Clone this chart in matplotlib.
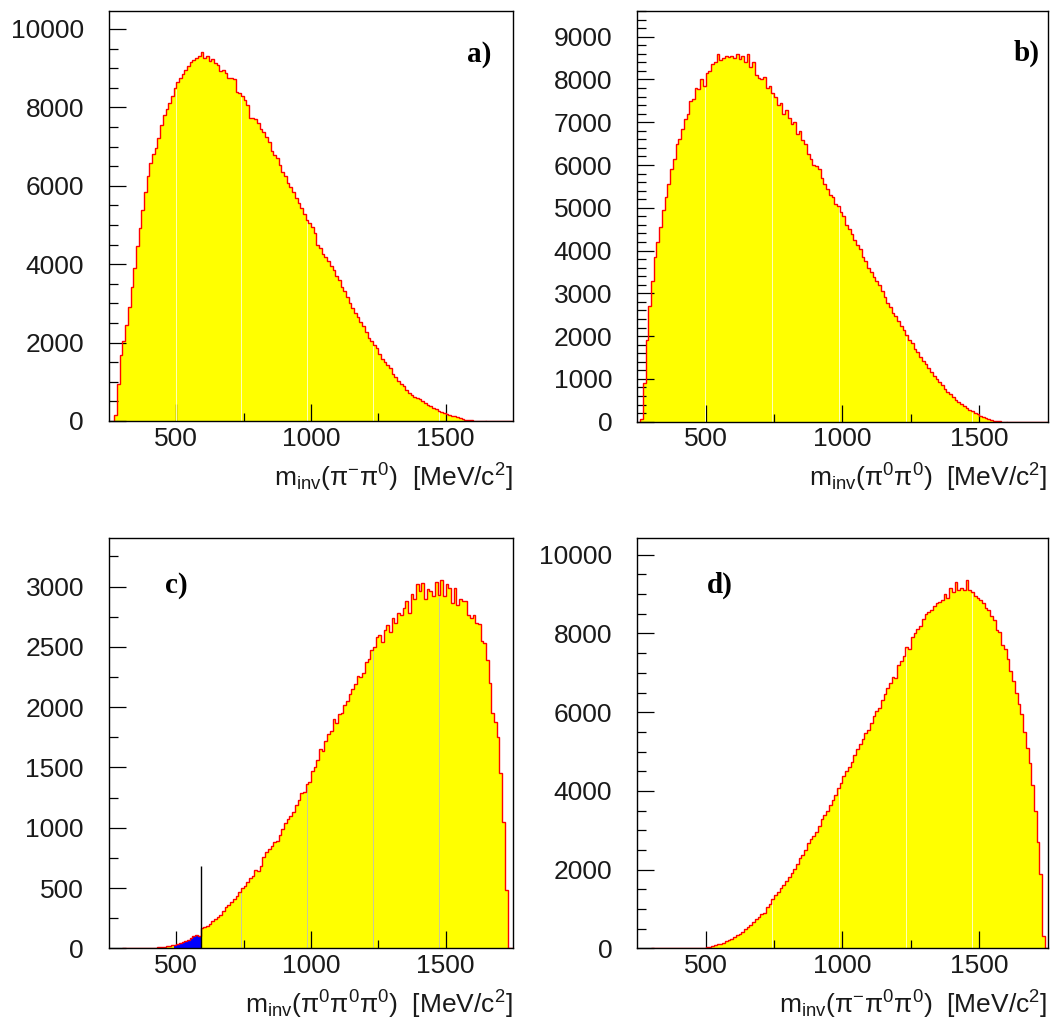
import numpy as np
import matplotlib
matplotlib.use('Agg')
import matplotlib.pyplot as plt
from matplotlib.ticker import FixedLocator, MultipleLocator

plt.rcParams['font.family'] = ['Liberation Sans', 'DejaVu Sans']
plt.rcParams['mathtext.fontset'] = 'custom'
plt.rcParams['mathtext.rm'] = 'Liberation Sans'
plt.rcParams['mathtext.it'] = 'Liberation Sans:italic'
plt.rcParams['mathtext.bf'] = 'Liberation Sans:bold'

BIN = 10  # MeV/c^2 per bin

# a) m(pi- pi0), bins start at 270
A_START = 270
A_COUNTS = [
    150, 950, 1680, 2040, 2440, 2900, 3410, 3890, 4470, 4930,
    5380, 5840, 6250, 6580, 6820, 6970, 7220, 7540, 7800, 7950,
    8120, 8300, 8490, 8640, 8740, 8840, 8950, 9050, 9150, 9200,
    9260, 9310, 9400, 9250, 9300, 9180, 9230, 9130, 9080, 8920,
    8960, 8880, 8760, 8740, 8730, 8400, 8370, 8300, 8180, 8050,
    7720, 7740, 7700, 7600, 7450, 7380, 7250, 7120, 6880, 6780,
    6720, 6520, 6350, 6240, 6080, 5960, 5830, 5690, 5550, 5420,
    5280, 5120, 5060, 4940, 4790, 4500, 4400, 4260, 4170, 4080,
    3960, 3850, 3690, 3600, 3430, 3320, 3150, 3010, 2880, 2760,
    2650, 2530, 2430, 2270, 2120, 2040, 1940, 1850, 1710, 1590,
    1510, 1420, 1340, 1210, 1120, 1030, 950, 890, 790, 720,
    660, 620, 580, 550, 500, 450, 410, 370, 340, 300,
    265, 235, 205, 185, 160, 135, 115, 90, 70, 50,
    35, 22, 15, 10, 8, 5, 3, 2,
]

# b) m(pi0 pi0), bins start at 260
B_START = 260
B_COUNTS = [
    60, 900, 1900, 2700, 3300, 3850, 4200, 4550, 4950, 5250,
    5550, 5900, 6150, 6500, 6600, 6850, 7080, 7200, 7500, 7550,
    7800, 7780, 8000, 7850, 8150, 8200, 8350, 8400, 8600, 8450,
    8500, 8550, 8520, 8560, 8500, 8600, 8480, 8550, 8420, 8600,
    8300, 8400, 8100, 8030, 8000, 8060, 7800, 7850, 7680, 7600,
    7400, 7450, 7200, 7280, 7100, 6950, 7000, 6720, 6800, 6580,
    6480, 6250, 6150, 6000, 5980, 5900, 5700, 5550, 5450, 5300,
    5250, 5100, 5050, 4900, 4800, 4600, 4500, 4380, 4250, 4120,
    4030, 3850, 3750, 3600, 3500, 3380, 3280, 3200, 3050, 2920,
    2780, 2680, 2540, 2480, 2350, 2240, 2150, 2020, 1920, 1830,
    1700, 1620, 1520, 1420, 1340, 1250, 1150, 1070, 990, 920,
    850, 760, 700, 640, 570, 510, 460, 420, 370, 320,
    280, 240, 200, 170, 140, 110, 90, 65, 40, 25,
    15, 8, 4, 2,
]

# c) m(pi0 pi0 pi0), bins start at 300
C_START = 300
C_COUNTS = [
    1, 1, 1, 1, 2, 2, 2, 3, 3, 4,
    4, 5, 6, 7, 9, 12, 16, 20, 25, 30,
    38, 45, 55, 62, 72, 85, 100, 110, 105, 170,
    175, 185, 200, 225, 240, 260, 280, 310, 340, 360,
    380, 410, 430, 470, 500, 520, 550, 580, 600, 650,
    640, 680, 760, 800, 820, 850, 880, 890, 940, 990,
    1040, 1070, 1100, 1130, 1190, 1230, 1290, 1300, 1360, 1380,
    1470, 1500, 1560, 1650, 1640, 1720, 1780, 1800, 1900, 1870,
    1940, 1950, 2020, 2050, 2110, 2150, 2190, 2260, 2250, 2280,
    2370, 2400, 2470, 2500, 2580, 2600, 2540, 2640, 2680, 2620,
    2740, 2700, 2780, 2760, 2820, 2880, 2780, 2940, 2900, 3020,
    2960, 3030, 2900, 2980, 2960, 2920, 3040, 2930, 3050, 2920,
    3020, 2990, 2860, 2990, 2850, 2900, 2880, 2880, 2760, 2740,
    2760, 2700, 2690, 2550, 2530, 2390, 2200, 1950, 1880, 1750,
    1450, 1050, 480,
]
# bins of c) that pass the selection are shaded blue
C_CUT_LO = 490
C_CUT_HI = 590
C_CUT_MARK = 680

# d) m(pi- pi0 pi0), bins start at 300
D_START = 300
D_COUNTS = [
    0, 0, 1, 1, 1, 1, 2, 2, 2, 3,
    3, 4, 5, 6, 7, 9, 11, 13, 16, 20,
    25, 40, 55, 75, 100, 120, 140, 180, 210, 240,
    290, 330, 360, 420, 480, 540, 600, 660, 740, 800,
    880, 890, 1050, 1120, 1250, 1360, 1430, 1520, 1620, 1700,
    1800, 1920, 2020, 2150, 2300, 2380, 2510, 2680, 2780, 2850,
    2960, 3100, 3280, 3390, 3480, 3650, 3780, 3900, 4080, 4200,
    4380, 4500, 4620, 4730, 4900, 5070, 5200, 5320, 5480, 5560,
    5720, 5900, 6020, 6100, 6300, 6450, 6620, 6750, 6900, 6880,
    7200, 7300, 7420, 7650, 7600, 7900, 8000, 8120, 8200, 8380,
    8500, 8550, 8600, 8700, 8780, 8800, 8850, 9000, 8900, 9150,
    9050, 9300, 9100, 9150, 9100, 9350, 9100, 9050, 8950, 8900,
    8850, 8780, 8650, 8600, 8450, 8350, 8100, 8050, 7700, 7600,
    7350, 7050, 6800, 6500, 6200, 5950, 5500, 5100, 4700, 4150,
    3500, 2700, 1900, 300,
]

# thin seams in the filled area
SEAMS = [498, 742, 987, 1231, 1475]

XLABELS = [
    r'm$_{\mathregular{inv}}$(π$^{-}$π$^{0}$)  [MeV/c$^{2}$]',
    r'm$_{\mathregular{inv}}$(π$^{0}$π$^{0}$)  [MeV/c$^{2}$]',
    r'm$_{\mathregular{inv}}$(π$^{0}$π$^{0}$π$^{0}$)  [MeV/c$^{2}$]',
    r'm$_{\mathregular{inv}}$(π$^{-}$π$^{0}$π$^{0}$)  [MeV/c$^{2}$]',
]
TAGS = ['a)', 'b)', 'c)', 'd)']


def hist_panel(ax, start, counts, ymax, ymajor, yminor, seam_colour):
    counts = np.asarray(counts, dtype=float)
    edges = start + BIN * np.arange(len(counts) + 1)
    ax.stairs(counts, edges, fill=True, color='#ffff00', lw=0, zorder=1)
    for s in SEAMS:
        i = int((s - start) // BIN)
        if 0 <= i < len(counts):
            ax.vlines(s, 0, counts[i] - 15, color=seam_colour, lw=0.7, zorder=2)
    ax.stairs(counts, edges, color='#ff0000', lw=1.0, zorder=4)
    ax.plot([edges[-1], 1750], [0, 0], color='#ff0000', lw=1.0, zorder=4)

    ax.set_xlim(250, 1750)
    ax.set_ylim(0, ymax)
    ax.xaxis.set_major_locator(FixedLocator([500, 1000, 1500]))
    ax.xaxis.set_minor_locator(FixedLocator([750, 1250]))
    ax.yaxis.set_major_locator(MultipleLocator(ymajor))
    ax.yaxis.set_minor_locator(MultipleLocator(yminor))
    ax.tick_params(which='both', direction='in', top=False, right=False,
                   colors='black', width=0.9, labelcolor='#1a1a1a')
    ax.tick_params(axis='y', which='major', length=12.5, labelsize=19, pad=18)
    ax.tick_params(axis='y', which='minor', length=6.5)
    ax.tick_params(axis='x', which='major', length=12.5, labelsize=19, pad=4)
    ax.tick_params(axis='x', which='minor', length=6)
    for sp in ax.spines.values():
        sp.set_linewidth(1.0)
        sp.set_zorder(5)


fig = plt.figure(figsize=(10.52, 10.21), dpi=100)
ax_a = fig.add_axes([0.1036, 0.5877, 0.3840, 0.4016])
ax_b = fig.add_axes([0.6058, 0.5870, 0.3901, 0.4022])
ax_c = fig.add_axes([0.1036, 0.0712, 0.3840, 0.4016])
ax_d = fig.add_axes([0.6058, 0.0712, 0.3901, 0.4016])

hist_panel(ax_a, A_START, A_COUNTS, 10460, 2000, 500, '#ffffc0')
hist_panel(ax_b, B_START, B_COUNTS, 9600, 1000, 200, '#ffffc0')
hist_panel(ax_c, C_START, C_COUNTS, 3400, 500, 250, '#c8c8a0')
hist_panel(ax_d, D_START, D_COUNTS, 10420, 2000, 500, '#ffffc0')

# selected region of c) and the cut marker
c_counts = np.asarray(C_COUNTS, dtype=float)
c_edges = C_START + BIN * np.arange(len(c_counts) + 1)
lo = (C_CUT_LO - C_START) // BIN
hi = (C_CUT_HI - C_START) // BIN
ax_c.stairs(c_counts[lo:hi], c_edges[lo:hi + 1], fill=True, color='#0000ff',
            lw=0, zorder=3)
ax_c.vlines(C_CUT_HI, 0, C_CUT_MARK, color='black', lw=1.0, zorder=6)

tag_pos = [(0.916, 0.893), (0.949, 0.898), (0.167, 0.884), (0.200, 0.886)]
for ax, lab, tag, (tx, ty) in zip([ax_a, ax_b, ax_c, ax_d], XLABELS, TAGS, tag_pos):
    ax.text(1.0, -0.138, lab, transform=ax.transAxes, ha='right', va='center',
            fontsize=19, color='#1a1a1a')
    ax.text(tx, ty, tag, transform=ax.transAxes, ha='center', va='center',
            fontsize=21, fontweight='bold', family='Liberation Serif')

fig.savefig('out.png', dpi=100)
